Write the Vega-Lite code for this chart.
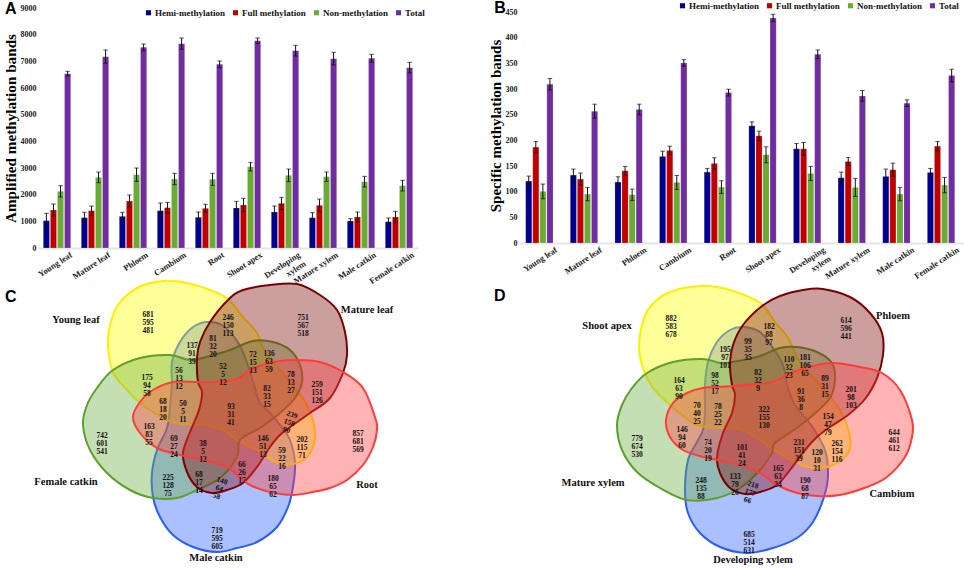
{"$schema":"https://vega.github.io/schema/vega-lite/v6.json",
"autosize":{"type":"none"},
"padding":{"left":38,"top":8,"right":926,"bottom":560},
"background":"white",
"columns":2,
"bounds":"flush",
"spacing":{"column":102,"row":32},
"resolve":{"scale":{"color":"independent"},"legend":{"color":"independent"}},
"config":{"view":{"stroke":null},"axis":{"labelFont":"Liberation Serif","titleFont":"Liberation Serif","labelFontWeight":"bold","titleFontWeight":"bold","labelColor":"#222","titleColor":"#000"},"legend":{"labelFont":"Liberation Serif","labelFontWeight":"bold"}},
"datasets":{
"a":[
{"t":"Young leaf","s":"Hemi-methylation","v":1025,"lo":750,"hi":1300},{"t":"Young leaf","s":"Full methylation","v":1425,"lo":1200,"hi":1650},{"t":"Young leaf","s":"Non-methylation","v":2125,"lo":1913,"hi":2337},{"t":"Young leaf","s":"Total","v":6537,"lo":6449,"hi":6625},
{"t":"Mature leaf","s":"Hemi-methylation","v":1137,"lo":937,"hi":1337},{"t":"Mature leaf","s":"Full methylation","v":1400,"lo":1225,"hi":1575},{"t":"Mature leaf","s":"Non-methylation","v":2650,"lo":2450,"hi":2850},{"t":"Mature leaf","s":"Total","v":7175,"lo":6925,"hi":7425},
{"t":"Phloem","s":"Hemi-methylation","v":1187,"lo":1037,"hi":1337},{"t":"Phloem","s":"Full methylation","v":1762,"lo":1537,"hi":1987},{"t":"Phloem","s":"Non-methylation","v":2750,"lo":2500,"hi":3000},{"t":"Phloem","s":"Total","v":7525,"lo":7400,"hi":7650},
{"t":"Cambium","s":"Hemi-methylation","v":1400,"lo":1113,"hi":1687},{"t":"Cambium","s":"Full methylation","v":1512,"lo":1312,"hi":1712},{"t":"Cambium","s":"Non-methylation","v":2587,"lo":2374,"hi":2800},{"t":"Cambium","s":"Total","v":7662,"lo":7449,"hi":7875},
{"t":"Root","s":"Hemi-methylation","v":1150,"lo":950,"hi":1350},{"t":"Root","s":"Full methylation","v":1487,"lo":1337,"hi":1637},{"t":"Root","s":"Non-methylation","v":2575,"lo":2350,"hi":2800},{"t":"Root","s":"Total","v":6887,"lo":6762,"hi":7012},
{"t":"Shoot apex","s":"Hemi-methylation","v":1500,"lo":1250,"hi":1750},{"t":"Shoot apex","s":"Full methylation","v":1612,"lo":1362,"hi":1862},{"t":"Shoot apex","s":"Non-methylation","v":3050,"lo":2888,"hi":3212},{"t":"Shoot apex","s":"Total","v":7775,"lo":7675,"hi":7875},
{"t":"Developing xylem","s":"Hemi-methylation","v":1350,"lo":1125,"hi":1575},{"t":"Developing xylem","s":"Full methylation","v":1675,"lo":1450,"hi":1900},{"t":"Developing xylem","s":"Non-methylation","v":2725,"lo":2488,"hi":2962},{"t":"Developing xylem","s":"Total","v":7400,"lo":7200,"hi":7600},
{"t":"Mature xylem","s":"Hemi-methylation","v":1137,"lo":949,"hi":1325},{"t":"Mature xylem","s":"Full methylation","v":1600,"lo":1363,"hi":1837},{"t":"Mature xylem","s":"Non-methylation","v":2675,"lo":2500,"hi":2850},{"t":"Mature xylem","s":"Total","v":7100,"lo":6863,"hi":7337},
{"t":"Male catkin","s":"Hemi-methylation","v":1012,"lo":924,"hi":1100},{"t":"Male catkin","s":"Full methylation","v":1162,"lo":974,"hi":1350},{"t":"Male catkin","s":"Non-methylation","v":2487,"lo":2287,"hi":2687},{"t":"Male catkin","s":"Total","v":7112,"lo":6962,"hi":7262},
{"t":"Female catkin","s":"Hemi-methylation","v":987,"lo":849,"hi":1125},{"t":"Female catkin","s":"Full methylation","v":1162,"lo":949,"hi":1375},{"t":"Female catkin","s":"Non-methylation","v":2337,"lo":2137,"hi":2537},{"t":"Female catkin","s":"Total","v":6762,"lo":6562,"hi":6962}],
"b":[
{"t":"Young leaf","s":"Hemi-methylation","v":120.6,"lo":110.8,"hi":130.4},{"t":"Young leaf","s":"Full methylation","v":186.8,"lo":175.8,"hi":197.8},{"t":"Young leaf","s":"Non-methylation","v":100.5,"lo":86.2,"hi":114.8},{"t":"Young leaf","s":"Total","v":309.3,"lo":298.2,"hi":320.4},
{"t":"Mature leaf","s":"Hemi-methylation","v":132.3,"lo":120.6,"hi":144},{"t":"Mature leaf","s":"Full methylation","v":124.5,"lo":112.8,"hi":136.2},{"t":"Mature leaf","s":"Non-methylation","v":95.3,"lo":82.3,"hi":108.3},{"t":"Mature leaf","s":"Total","v":256.8,"lo":243.2,"hi":270.4},
{"t":"Phloem","s":"Hemi-methylation","v":118.7,"lo":108.4,"hi":129},{"t":"Phloem","s":"Full methylation","v":140.7,"lo":132.2,"hi":149.2},{"t":"Phloem","s":"Non-methylation","v":94,"lo":83,"hi":105},{"t":"Phloem","s":"Total","v":260,"lo":249.6,"hi":270.4},
{"t":"Cambium","s":"Hemi-methylation","v":168.6,"lo":158.2,"hi":179},{"t":"Cambium","s":"Full methylation","v":180.3,"lo":171.9,"hi":188.7},{"t":"Cambium","s":"Non-methylation","v":118,"lo":104.4,"hi":131.6},{"t":"Cambium","s":"Total","v":350.8,"lo":344.3,"hi":357.3},
{"t":"Root","s":"Hemi-methylation","v":138.1,"lo":130.9,"hi":145.3},{"t":"Root","s":"Full methylation","v":155,"lo":144,"hi":166},{"t":"Root","s":"Non-methylation","v":108.9,"lo":96.5,"hi":121.3},{"t":"Root","s":"Total","v":293.1,"lo":286.6,"hi":299.6},
{"t":"Shoot apex","s":"Hemi-methylation","v":228.3,"lo":220.6,"hi":236},{"t":"Shoot apex","s":"Full methylation","v":208.8,"lo":199.7,"hi":217.9},{"t":"Shoot apex","s":"Non-methylation","v":171.9,"lo":156.4,"hi":187.4},{"t":"Shoot apex","s":"Total","v":438.4,"lo":431.3,"hi":445.5},
{"t":"Developing xylem","s":"Hemi-methylation","v":183.5,"lo":173.1,"hi":193.9},{"t":"Developing xylem","s":"Full methylation","v":183.5,"lo":171.2,"hi":195.8},{"t":"Developing xylem","s":"Non-methylation","v":135.5,"lo":121.8,"hi":149.2},{"t":"Developing xylem","s":"Total","v":367.7,"lo":359.3,"hi":376.1},
{"t":"Mature xylem","s":"Hemi-methylation","v":127.1,"lo":116.1,"hi":138.1},{"t":"Mature xylem","s":"Full methylation","v":158.9,"lo":151.1,"hi":166.7},{"t":"Mature xylem","s":"Non-methylation","v":108.3,"lo":90.8,"hi":125.8},{"t":"Mature xylem","s":"Total","v":286.6,"lo":276.2,"hi":297},
{"t":"Male catkin","s":"Hemi-methylation","v":129.7,"lo":115.4,"hi":144},{"t":"Male catkin","s":"Full methylation","v":142.7,"lo":129.8,"hi":155.6},{"t":"Male catkin","s":"Non-methylation","v":95.3,"lo":82.3,"hi":108.3},{"t":"Male catkin","s":"Total","v":272.4,"lo":265.9,"hi":278.9},
{"t":"Female catkin","s":"Hemi-methylation","v":137.5,"lo":129.7,"hi":145.3},{"t":"Female catkin","s":"Full methylation","v":188.7,"lo":179.6,"hi":197.8},{"t":"Female catkin","s":"Non-methylation","v":112.8,"lo":97.8,"hi":127.8},{"t":"Female catkin","s":"Total","v":326.2,"lo":313.9,"hi":338.5}],
"cs":[
{"s":"B","i":0,"x":172,"y":382},{"s":"B","i":1,"x":172,"y":362},{"s":"B","i":2,"x":180,"y":342},{"s":"B","i":3,"x":193,"y":327},{"s":"B","i":4,"x":207,"y":322},{"s":"B","i":5,"x":222,"y":325},{"s":"B","i":6,"x":235,"y":338},{"s":"B","i":7,"x":243,"y":352},{"s":"B","i":8,"x":250,"y":372},{"s":"B","i":9,"x":255,"y":388},{"s":"B","i":10,"x":260,"y":403},{"s":"B","i":11,"x":270,"y":413},{"s":"B","i":12,"x":280,"y":425},{"s":"B","i":13,"x":290,"y":440},{"s":"B","i":14,"x":295,"y":463},{"s":"B","i":15,"x":293,"y":487},{"s":"B","i":16,"x":288,"y":507},{"s":"B","i":17,"x":277,"y":527},{"s":"B","i":18,"x":257,"y":542},{"s":"B","i":19,"x":237,"y":548},{"s":"B","i":20,"x":217,"y":552},{"s":"B","i":21,"x":193,"y":547},{"s":"B","i":22,"x":173,"y":535},{"s":"B","i":23,"x":160,"y":517},{"s":"B","i":24,"x":153,"y":497},{"s":"B","i":25,"x":152,"y":473},{"s":"B","i":26,"x":157,"y":450},{"s":"B","i":27,"x":167,"y":428},{"s":"B","i":28,"x":170,"y":408},
{"s":"Y","i":0,"x":108,"y":345},{"s":"Y","i":1,"x":110,"y":325},{"s":"Y","i":2,"x":118,"y":305},{"s":"Y","i":3,"x":137,"y":288},{"s":"Y","i":4,"x":163,"y":281},{"s":"Y","i":5,"x":187,"y":283},{"s":"Y","i":6,"x":210,"y":290},{"s":"Y","i":7,"x":228,"y":299},{"s":"Y","i":8,"x":243,"y":317},{"s":"Y","i":9,"x":257,"y":333},{"s":"Y","i":10,"x":263,"y":348},{"s":"Y","i":11,"x":273,"y":362},{"s":"Y","i":12,"x":290,"y":382},{"s":"Y","i":13,"x":307,"y":405},{"s":"Y","i":14,"x":315,"y":433},{"s":"Y","i":15,"x":310,"y":453},{"s":"Y","i":16,"x":297,"y":463},{"s":"Y","i":17,"x":277,"y":463},{"s":"Y","i":18,"x":257,"y":450},{"s":"Y","i":19,"x":240,"y":442},{"s":"Y","i":20,"x":223,"y":430},{"s":"Y","i":21,"x":205,"y":425},{"s":"Y","i":22,"x":190,"y":425},{"s":"Y","i":23,"x":167,"y":420},{"s":"Y","i":24,"x":140,"y":403},{"s":"Y","i":25,"x":127,"y":390},{"s":"Y","i":26,"x":113,"y":372},
{"s":"G","i":0,"x":83,"y":425},{"s":"G","i":1,"x":87,"y":405},{"s":"G","i":2,"x":97,"y":388},{"s":"G","i":3,"x":113,"y":370},{"s":"G","i":4,"x":140,"y":358},{"s":"G","i":5,"x":170,"y":355},{"s":"G","i":6,"x":190,"y":360},{"s":"G","i":7,"x":210,"y":356},{"s":"G","i":8,"x":230,"y":350},{"s":"G","i":9,"x":253,"y":341},{"s":"G","i":10,"x":273,"y":342},{"s":"G","i":11,"x":290,"y":350},{"s":"G","i":12,"x":300,"y":365},{"s":"G","i":13,"x":302,"y":382},{"s":"G","i":14,"x":295,"y":398},{"s":"G","i":15,"x":280,"y":413},{"s":"G","i":16,"x":260,"y":428},{"s":"G","i":17,"x":240,"y":440},{"s":"G","i":18,"x":237,"y":457},{"s":"G","i":19,"x":220,"y":478},{"s":"G","i":20,"x":197,"y":490},{"s":"G","i":21,"x":177,"y":498},{"s":"G","i":22,"x":153,"y":498},{"s":"G","i":23,"x":130,"y":490},{"s":"G","i":24,"x":107,"y":473},{"s":"G","i":25,"x":90,"y":450},
{"s":"M","i":0,"x":228,"y":300},{"s":"M","i":1,"x":243,"y":290},{"s":"M","i":2,"x":270,"y":285},{"s":"M","i":3,"x":297,"y":284},{"s":"M","i":4,"x":320,"y":295},{"s":"M","i":5,"x":337,"y":310},{"s":"M","i":6,"x":345,"y":332},{"s":"M","i":7,"x":347,"y":355},{"s":"M","i":8,"x":343,"y":373},{"s":"M","i":9,"x":330,"y":398},{"s":"M","i":10,"x":310,"y":413},{"s":"M","i":11,"x":293,"y":425},{"s":"M","i":12,"x":280,"y":435},{"s":"M","i":13,"x":270,"y":447},{"s":"M","i":14,"x":257,"y":467},{"s":"M","i":15,"x":243,"y":483},{"s":"M","i":16,"x":227,"y":490},{"s":"M","i":17,"x":212,"y":493},{"s":"M","i":18,"x":197,"y":487},{"s":"M","i":19,"x":187,"y":472},{"s":"M","i":20,"x":183,"y":453},{"s":"M","i":21,"x":190,"y":432},{"s":"M","i":22,"x":199,"y":410},{"s":"M","i":23,"x":202,"y":392},{"s":"M","i":24,"x":198,"y":382},{"s":"M","i":25,"x":197,"y":358},{"s":"M","i":26,"x":200,"y":342},{"s":"M","i":27,"x":210,"y":322},
{"s":"R","i":0,"x":133,"y":417},{"s":"R","i":1,"x":140,"y":402},{"s":"R","i":2,"x":153,"y":390},{"s":"R","i":3,"x":173,"y":382},{"s":"R","i":4,"x":197,"y":382},{"s":"R","i":5,"x":213,"y":382},{"s":"R","i":6,"x":237,"y":379},{"s":"R","i":7,"x":250,"y":370},{"s":"R","i":8,"x":273,"y":362},{"s":"R","i":9,"x":297,"y":360},{"s":"R","i":10,"x":320,"y":362},{"s":"R","i":11,"x":343,"y":372},{"s":"R","i":12,"x":363,"y":388},{"s":"R","i":13,"x":375,"y":417},{"s":"R","i":14,"x":377,"y":430},{"s":"R","i":15,"x":373,"y":447},{"s":"R","i":16,"x":363,"y":465},{"s":"R","i":17,"x":347,"y":480},{"s":"R","i":18,"x":330,"y":488},{"s":"R","i":19,"x":313,"y":492},{"s":"R","i":20,"x":293,"y":495},{"s":"R","i":21,"x":270,"y":492},{"s":"R","i":22,"x":250,"y":485},{"s":"R","i":23,"x":237,"y":475},{"s":"R","i":24,"x":227,"y":467},{"s":"R","i":25,"x":203,"y":460},{"s":"R","i":26,"x":180,"y":455},{"s":"R","i":27,"x":157,"y":448},{"s":"R","i":28,"x":140,"y":433}],
"ds":[
{"s":"B","i":0,"x":705,"y":385},{"s":"B","i":1,"x":708,"y":362},{"s":"B","i":2,"x":717,"y":342},{"s":"B","i":3,"x":730,"y":330},{"s":"B","i":4,"x":743,"y":327},{"s":"B","i":5,"x":760,"y":332},{"s":"B","i":6,"x":773,"y":348},{"s":"B","i":7,"x":783,"y":365},{"s":"B","i":8,"x":788,"y":388},{"s":"B","i":9,"x":795,"y":405},{"s":"B","i":10,"x":813,"y":428},{"s":"B","i":11,"x":825,"y":450},{"s":"B","i":12,"x":828,"y":475},{"s":"B","i":13,"x":824,"y":497},{"s":"B","i":14,"x":813,"y":522},{"s":"B","i":15,"x":797,"y":538},{"s":"B","i":16,"x":773,"y":548},{"s":"B","i":17,"x":747,"y":553},{"s":"B","i":18,"x":720,"y":547},{"s":"B","i":19,"x":700,"y":533},{"s":"B","i":20,"x":688,"y":513},{"s":"B","i":21,"x":685,"y":490},{"s":"B","i":22,"x":688,"y":460},{"s":"B","i":23,"x":697,"y":442},{"s":"B","i":24,"x":703,"y":430},{"s":"B","i":25,"x":705,"y":413},
{"s":"Y","i":0,"x":639,"y":347},{"s":"Y","i":1,"x":642,"y":325},{"s":"Y","i":2,"x":650,"y":307},{"s":"Y","i":3,"x":670,"y":292},{"s":"Y","i":4,"x":703,"y":286},{"s":"Y","i":5,"x":730,"y":290},{"s":"Y","i":6,"x":760,"y":303},{"s":"Y","i":7,"x":775,"y":322},{"s":"Y","i":8,"x":788,"y":338},{"s":"Y","i":9,"x":800,"y":362},{"s":"Y","i":10,"x":820,"y":385},{"s":"Y","i":11,"x":840,"y":410},{"s":"Y","i":12,"x":850,"y":437},{"s":"Y","i":13,"x":848,"y":453},{"s":"Y","i":14,"x":833,"y":465},{"s":"Y","i":15,"x":813,"y":468},{"s":"Y","i":16,"x":797,"y":463},{"s":"Y","i":17,"x":777,"y":452},{"s":"Y","i":18,"x":757,"y":438},{"s":"Y","i":19,"x":737,"y":428},{"s":"Y","i":20,"x":717,"y":428},{"s":"Y","i":21,"x":695,"y":424},{"s":"Y","i":22,"x":670,"y":405},{"s":"Y","i":23,"x":653,"y":388},{"s":"Y","i":24,"x":643,"y":368},
{"s":"G","i":0,"x":617,"y":425},{"s":"G","i":1,"x":622,"y":405},{"s":"G","i":2,"x":632,"y":388},{"s":"G","i":3,"x":647,"y":373},{"s":"G","i":4,"x":673,"y":362},{"s":"G","i":5,"x":703,"y":359},{"s":"G","i":6,"x":720,"y":363},{"s":"G","i":7,"x":732,"y":362},{"s":"G","i":8,"x":757,"y":357},{"s":"G","i":9,"x":780,"y":348},{"s":"G","i":10,"x":797,"y":347},{"s":"G","i":11,"x":817,"y":352},{"s":"G","i":12,"x":832,"y":363},{"s":"G","i":13,"x":835,"y":380},{"s":"G","i":14,"x":830,"y":398},{"s":"G","i":15,"x":813,"y":415},{"s":"G","i":16,"x":797,"y":428},{"s":"G","i":17,"x":775,"y":443},{"s":"G","i":18,"x":772,"y":453},{"s":"G","i":19,"x":760,"y":470},{"s":"G","i":20,"x":740,"y":488},{"s":"G","i":21,"x":717,"y":498},{"s":"G","i":22,"x":687,"y":500},{"s":"G","i":23,"x":660,"y":488},{"s":"G","i":24,"x":637,"y":472},{"s":"G","i":25,"x":622,"y":450},
{"s":"M","i":0,"x":762,"y":306},{"s":"M","i":1,"x":780,"y":296},{"s":"M","i":2,"x":803,"y":290},{"s":"M","i":3,"x":823,"y":289},{"s":"M","i":4,"x":850,"y":297},{"s":"M","i":5,"x":870,"y":313},{"s":"M","i":6,"x":882,"y":333},{"s":"M","i":7,"x":883,"y":355},{"s":"M","i":8,"x":877,"y":378},{"s":"M","i":9,"x":865,"y":399},{"s":"M","i":10,"x":848,"y":415},{"s":"M","i":11,"x":830,"y":427},{"s":"M","i":12,"x":817,"y":437},{"s":"M","i":13,"x":805,"y":450},{"s":"M","i":14,"x":790,"y":470},{"s":"M","i":15,"x":777,"y":485},{"s":"M","i":16,"x":760,"y":492},{"s":"M","i":17,"x":745,"y":494},{"s":"M","i":18,"x":730,"y":488},{"s":"M","i":19,"x":720,"y":473},{"s":"M","i":20,"x":717,"y":457},{"s":"M","i":21,"x":723,"y":433},{"s":"M","i":22,"x":732,"y":413},{"s":"M","i":23,"x":735,"y":395},{"s":"M","i":24,"x":732,"y":385},{"s":"M","i":25,"x":730,"y":365},{"s":"M","i":26,"x":733,"y":345},{"s":"M","i":27,"x":743,"y":325},
{"s":"R","i":0,"x":666,"y":420},{"s":"R","i":1,"x":673,"y":403},{"s":"R","i":2,"x":687,"y":393},{"s":"R","i":3,"x":703,"y":388},{"s":"R","i":4,"x":733,"y":386},{"s":"R","i":5,"x":772,"y":382},{"s":"R","i":6,"x":790,"y":373},{"s":"R","i":7,"x":813,"y":366},{"s":"R","i":8,"x":833,"y":363},{"s":"R","i":9,"x":860,"y":367},{"s":"R","i":10,"x":882,"y":373},{"s":"R","i":11,"x":900,"y":390},{"s":"R","i":12,"x":912,"y":420},{"s":"R","i":13,"x":912,"y":437},{"s":"R","i":14,"x":905,"y":457},{"s":"R","i":15,"x":887,"y":477},{"s":"R","i":16,"x":867,"y":487},{"s":"R","i":17,"x":840,"y":495},{"s":"R","i":18,"x":817,"y":496},{"s":"R","i":19,"x":797,"y":493},{"s":"R","i":20,"x":777,"y":485},{"s":"R","i":21,"x":763,"y":475},{"s":"R","i":22,"x":747,"y":467},{"s":"R","i":23,"x":723,"y":461},{"s":"R","i":24,"x":703,"y":457},{"s":"R","i":25,"x":683,"y":450},{"s":"R","i":26,"x":670,"y":437}],
"cn":[
{"x":148,"y":315,"n":"681\n595\n481"},{"x":192,"y":346,"n":"137\n91\n39"},{"x":147,"y":378,"n":"175\n94\n58"},{"x":179,"y":371,"n":"56\n13\n12"},{"x":163,"y":402,"n":"68\n18\n20"},{"x":183,"y":404,"n":"50\n5\n11"},{"x":228,"y":318,"n":"246\n150\n113"},{"x":303,"y":318,"n":"751\n567\n518"},{"x":213,"y":339,"n":"81\n32\n20"},{"x":253,"y":355,"n":"72\n15\n13"},{"x":269,"y":354,"n":"136\n63\n59"},{"x":223,"y":367,"n":"52\n5\n12"},{"x":291,"y":375,"n":"78\n13\n27"},{"x":317,"y":385,"n":"259\n151\n126"},{"x":267,"y":389,"n":"82\n33\n15"},{"x":231,"y":407,"n":"93\n31\n41"},{"x":149,"y":427,"n":"163\n83\n55"},{"x":102,"y":436,"n":"742\n601\n541"},{"x":174,"y":439,"n":"69\n27\n24"},{"x":203,"y":444,"n":"38\n5\n12"},{"x":263,"y":439,"n":"146\n51\n13"},{"x":282,"y":451,"n":"59\n22\n16"},{"x":302,"y":440,"n":"202\n115\n71"},{"x":242,"y":465,"n":"66\n26\n17"},{"x":199,"y":475,"n":"68\n17\n14"},{"x":168,"y":478,"n":"225\n128\n75"},{"x":273,"y":479,"n":"180\n65\n62"},{"x":217,"y":531,"n":"719\n595\n605"},{"x":358,"y":434,"n":"857\n681\n569"}],
"cr":[{"x":222,"y":481,"n":"148\n64\n58"},{"x":292,"y":415,"n":"239\n158\n90"}],
"cl":[{"x":76,"y":320,"n":"Young leaf"},{"x":367,"y":310,"n":"Mature leaf"},{"x":66,"y":482,"n":"Female catkin"},{"x":216,"y":558,"n":"Male catkin"},{"x":367,"y":485,"n":"Root"}],
"dn":[
{"x":671,"y":319,"n":"882\n583\n678"},{"x":725,"y":350,"n":"195\n97\n101"},{"x":748,"y":342,"n":"99\n35\n35"},{"x":679,"y":381,"n":"164\n63\n90"},{"x":715,"y":376,"n":"98\n52\n17"},{"x":697,"y":406,"n":"70\n40\n25"},{"x":718,"y":407,"n":"78\n25\n22"},{"x":769,"y":327,"n":"182\n88\n97"},{"x":846,"y":321,"n":"614\n596\n441"},{"x":789,"y":360,"n":"110\n32\n23"},{"x":805,"y":358,"n":"181\n106\n65"},{"x":758,"y":373,"n":"82\n32\n9"},{"x":825,"y":379,"n":"89\n31\n15"},{"x":851,"y":390,"n":"201\n98\n103"},{"x":801,"y":392,"n":"91\n36\n8"},{"x":764,"y":410,"n":"322\n155\n130"},{"x":828,"y":417,"n":"154\n47\n79"},{"x":682,"y":430,"n":"146\n94\n60"},{"x":637,"y":439,"n":"779\n674\n530"},{"x":708,"y":443,"n":"74\n20\n19"},{"x":742,"y":448,"n":"101\n41\n24"},{"x":799,"y":443,"n":"231\n151\n39"},{"x":817,"y":453,"n":"120\n10\n31"},{"x":837,"y":444,"n":"262\n154\n116"},{"x":778,"y":469,"n":"165\n63\n34"},{"x":735,"y":477,"n":"133\n79\n26"},{"x":701,"y":481,"n":"248\n135\n88"},{"x":805,"y":481,"n":"190\n68\n87"},{"x":749,"y":535,"n":"685\n514\n631"},{"x":894,"y":433,"n":"644\n461\n612"}],
"dr":[{"x":753,"y":485,"n":"218\n177\n66"}],
"dl":[{"x":607,"y":326,"n":"Shoot apex"},{"x":893,"y":316,"n":"Phloem"},{"x":593,"y":483,"n":"Mature xylem"},{"x":753,"y":560,"n":"Developing xylem"},{"x":892,"y":494,"n":"Cambium"}]
},
"concat":[
{"width":380,"height":240,"data":{"name":"a"},
"encoding":{"x":{"field":"t","type":"nominal","sort":null,"title":null,"scale":{"domain":["Young leaf","Mature leaf","Phloem","Cambium","Root","Shoot apex","Developing xylem","Mature xylem","Male catkin","Female catkin"],"paddingInner":0.28,"paddingOuter":0.14},"axis":{"labelAngle":-33,"labelAlign":"right","labelBaseline":"top","labelFontSize":8.5,"labelOffset":12,"labelPadding":2,"ticks":false,"domainColor":"#e6e6e6","domainWidth":2,"labelExpr":"datum.label == 'Developing xylem' ? ['Developing','xylem'] : datum.label","labelOverlap":false,"labelBound":false,"labelFlush":false}},
"xOffset":{"field":"s","type":"nominal","sort":null,"scale":{"domain":["Hemi-methylation","Full methylation","Non-methylation","Total"],"paddingInner":0.13}}},
"layer":[
{"mark":{"type":"bar","stroke":"#ffffff","strokeOpacity":0.35,"strokeWidth":0.5},"encoding":{"y":{"field":"v","type":"quantitative","title":"Amplified methylation bands","scale":{"domain":[0,9000],"nice":false},"axis":{"values":[0,1000,2000,3000,4000,5000,6000,7000,8000,9000],"tickCount":10,"format":"d","labelOverlap":false,"labelBound":false,"labelFlush":false,"grid":false,"domain":false,"ticks":false,"labelFontSize":8,"labelPadding":2,"titleFontSize":15.2,"titlePadding":2}},
"color":{"field":"s","type":"nominal","sort":null,"scale":{"domain":["Hemi-methylation","Full methylation","Non-methylation","Total"],"range":["#00008f","#c00000","#6aaa35","#6f2da0"]},"legend":{"title":null,"orient":"none","legendX":106,"legendY":0,"direction":"horizontal","columns":4,"symbolType":"square","symbolSize":26,"symbolStrokeWidth":0,"labelFontSize":9,"labelColor":"#111","labelOffset":2,"columnPadding":6}}}},
{"mark":{"type":"rule","color":"#111","strokeWidth":1},"encoding":{"y":{"field":"lo","type":"quantitative","title":"Amplified methylation bands"},"y2":{"field":"hi"}}},
{"mark":{"type":"tick","color":"#111","size":4.5,"thickness":1},"encoding":{"y":{"field":"hi","type":"quantitative","title":"Amplified methylation bands"}}},
{"mark":{"type":"tick","color":"#111","size":4.5,"thickness":1},"encoding":{"y":{"field":"lo","type":"quantitative","title":"Amplified methylation bands"}}},
{"data":{"values":[{"t":"Young leaf","L":"A","v":8944}]},"mark":{"type":"text","font":"Arial","fontWeight":"bold","fontSize":16,"align":"left","baseline":"middle","dx":-52,"color":"#000"},"encoding":{"xOffset":null,"y":{"field":"v","type":"quantitative","title":"Amplified methylation bands"},"text":{"field":"L"}}}
]},
{"width":444,"height":235,"data":{"name":"b"},
"encoding":{"x":{"field":"t","type":"nominal","sort":null,"title":null,"scale":{"domain":["Young leaf","Mature leaf","Phloem","Cambium","Root","Shoot apex","Developing xylem","Mature xylem","Male catkin","Female catkin"],"paddingInner":0.306,"paddingOuter":0.127},"axis":{"labelAngle":-33,"labelAlign":"right","labelBaseline":"top","labelFontSize":8.5,"labelOffset":13,"labelPadding":2,"ticks":false,"domainColor":"#e6e6e6","domainWidth":2,"labelExpr":"datum.label == 'Developing xylem' ? ['Developing','xylem'] : datum.label","labelOverlap":false,"labelBound":false,"labelFlush":false}},
"xOffset":{"field":"s","type":"nominal","sort":null,"scale":{"domain":["Hemi-methylation","Full methylation","Non-methylation","Total"],"paddingInner":0.18}}},
"layer":[
{"mark":{"type":"bar","stroke":"#ffffff","strokeOpacity":0.35,"strokeWidth":0.5},"encoding":{"y":{"field":"v","type":"quantitative","title":"Specific methylation bands","scale":{"domain":[0,457.8],"nice":false},"axis":{"values":[0,50,100,150,200,250,300,350,400,450],"tickCount":10,"format":"d","labelOverlap":false,"labelBound":false,"labelFlush":false,"grid":false,"domain":false,"ticks":false,"labelFontSize":8,"labelPadding":3,"titleFontSize":15,"titlePadding":2}},
"color":{"field":"s","type":"nominal","sort":null,"scale":{"domain":["Hemi-methylation","Full methylation","Non-methylation","Total"],"range":["#00008f","#c00000","#6aaa35","#6f2da0"]},"legend":{"title":null,"orient":"none","legendX":158,"legendY":-7,"direction":"horizontal","columns":4,"symbolType":"square","symbolSize":26,"symbolStrokeWidth":0,"labelFontSize":9,"labelColor":"#111","labelOffset":2,"columnPadding":6}}}},
{"mark":{"type":"rule","color":"#111","strokeWidth":1},"encoding":{"y":{"field":"lo","type":"quantitative","title":"Specific methylation bands"},"y2":{"field":"hi"}}},
{"mark":{"type":"tick","color":"#111","size":4.5,"thickness":1},"encoding":{"y":{"field":"hi","type":"quantitative","title":"Specific methylation bands"}}},
{"mark":{"type":"tick","color":"#111","size":4.5,"thickness":1},"encoding":{"y":{"field":"lo","type":"quantitative","title":"Specific methylation bands"}}},
{"data":{"values":[{"t":"Young leaf","L":"B","v":457.8}]},"mark":{"type":"text","font":"Arial","fontWeight":"bold","fontSize":16,"align":"left","baseline":"middle","dx":-47,"color":"#000"},"encoding":{"xOffset":null,"y":{"field":"v","type":"quantitative","title":"Specific methylation bands"},"text":{"field":"L"}}}
]},
{"width":380,"height":288,
"encoding":{"x":{"field":"x","type":"quantitative","scale":{"domain":[38,418],"nice":false,"zero":false},"axis":null},"y":{"field":"y","type":"quantitative","scale":{"domain":[280,568],"nice":false,"zero":false,"reverse":true},"axis":null}},
"layer":[
{"data":{"name":"cs"},"mark":{"type":"line","interpolate":"cardinal-closed","fillOpacity":0.4,"strokeWidth":2,"clip":false},"encoding":{"order":{"field":"i","type":"quantitative"},"stroke":{"field":"s","type":"nominal","sort":null,"scale":{"domain":["B","Y","G","M","R"],"range":["#2a5cff","#ffee00","#5ea02a","#7d0000","#ff3c3c"]},"legend":null},"fill":{"field":"s","type":"nominal","sort":null,"scale":{"domain":["B","Y","G","M","R"],"range":["#2a61ff","#ffff00","#6eaf44","#7f1010","#ff4040"]},"legend":null}}},
{"data":{"name":"cn"},"mark":{"type":"text","font":"Liberation Serif","fontWeight":"bold","fontSize":7.5,"lineBreak":"\n","lineHeight":8.2,"baseline":"middle","color":"#111"},"encoding":{"text":{"field":"n"}}},
{"data":{"name":"cr"},"mark":{"type":"text","font":"Liberation Serif","fontWeight":"bold","fontSize":7.5,"lineBreak":"\n","lineHeight":8.2,"baseline":"middle","color":"#111","angle":20},"encoding":{"text":{"field":"n"}}},
{"data":{"name":"cl"},"mark":{"type":"text","font":"Liberation Serif","fontWeight":"bold","fontSize":10.5,"baseline":"middle","color":"#111"},"encoding":{"text":{"field":"n"}}},
{"data":{"values":[{"x":5,"y":297,"n":"C"}]},"mark":{"type":"text","font":"Arial","fontWeight":"bold","fontSize":16,"align":"left","baseline":"middle","color":"#000"},"encoding":{"text":{"field":"n"}}}
]},
{"width":444,"height":288,
"encoding":{"x":{"field":"x","type":"quantitative","scale":{"domain":[520,964],"nice":false,"zero":false},"axis":null},"y":{"field":"y","type":"quantitative","scale":{"domain":[280,568],"nice":false,"zero":false,"reverse":true},"axis":null}},
"layer":[
{"data":{"name":"ds"},"mark":{"type":"line","interpolate":"cardinal-closed","fillOpacity":0.4,"strokeWidth":2,"clip":false},"encoding":{"order":{"field":"i","type":"quantitative"},"stroke":{"field":"s","type":"nominal","sort":null,"scale":{"domain":["B","Y","G","M","R"],"range":["#2a5cff","#ffee00","#5ea02a","#7d0000","#ff3c3c"]},"legend":null},"fill":{"field":"s","type":"nominal","sort":null,"scale":{"domain":["B","Y","G","M","R"],"range":["#2a61ff","#ffff00","#6eaf44","#7f1010","#ff4040"]},"legend":null}}},
{"data":{"name":"dn"},"mark":{"type":"text","font":"Liberation Serif","fontWeight":"bold","fontSize":7.5,"lineBreak":"\n","lineHeight":8.2,"baseline":"middle","color":"#111"},"encoding":{"text":{"field":"n"}}},
{"data":{"name":"dr"},"mark":{"type":"text","font":"Liberation Serif","fontWeight":"bold","fontSize":7.5,"lineBreak":"\n","lineHeight":8.2,"baseline":"middle","color":"#111","angle":20},"encoding":{"text":{"field":"n"}}},
{"data":{"name":"dl"},"mark":{"type":"text","font":"Liberation Serif","fontWeight":"bold","fontSize":10.5,"baseline":"middle","color":"#111"},"encoding":{"text":{"field":"n"}}},
{"data":{"values":[{"x":494,"y":296,"n":"D"}]},"mark":{"type":"text","font":"Arial","fontWeight":"bold","fontSize":16,"align":"left","baseline":"middle","color":"#000","clip":false},"encoding":{"text":{"field":"n"}}}
]}
]}
